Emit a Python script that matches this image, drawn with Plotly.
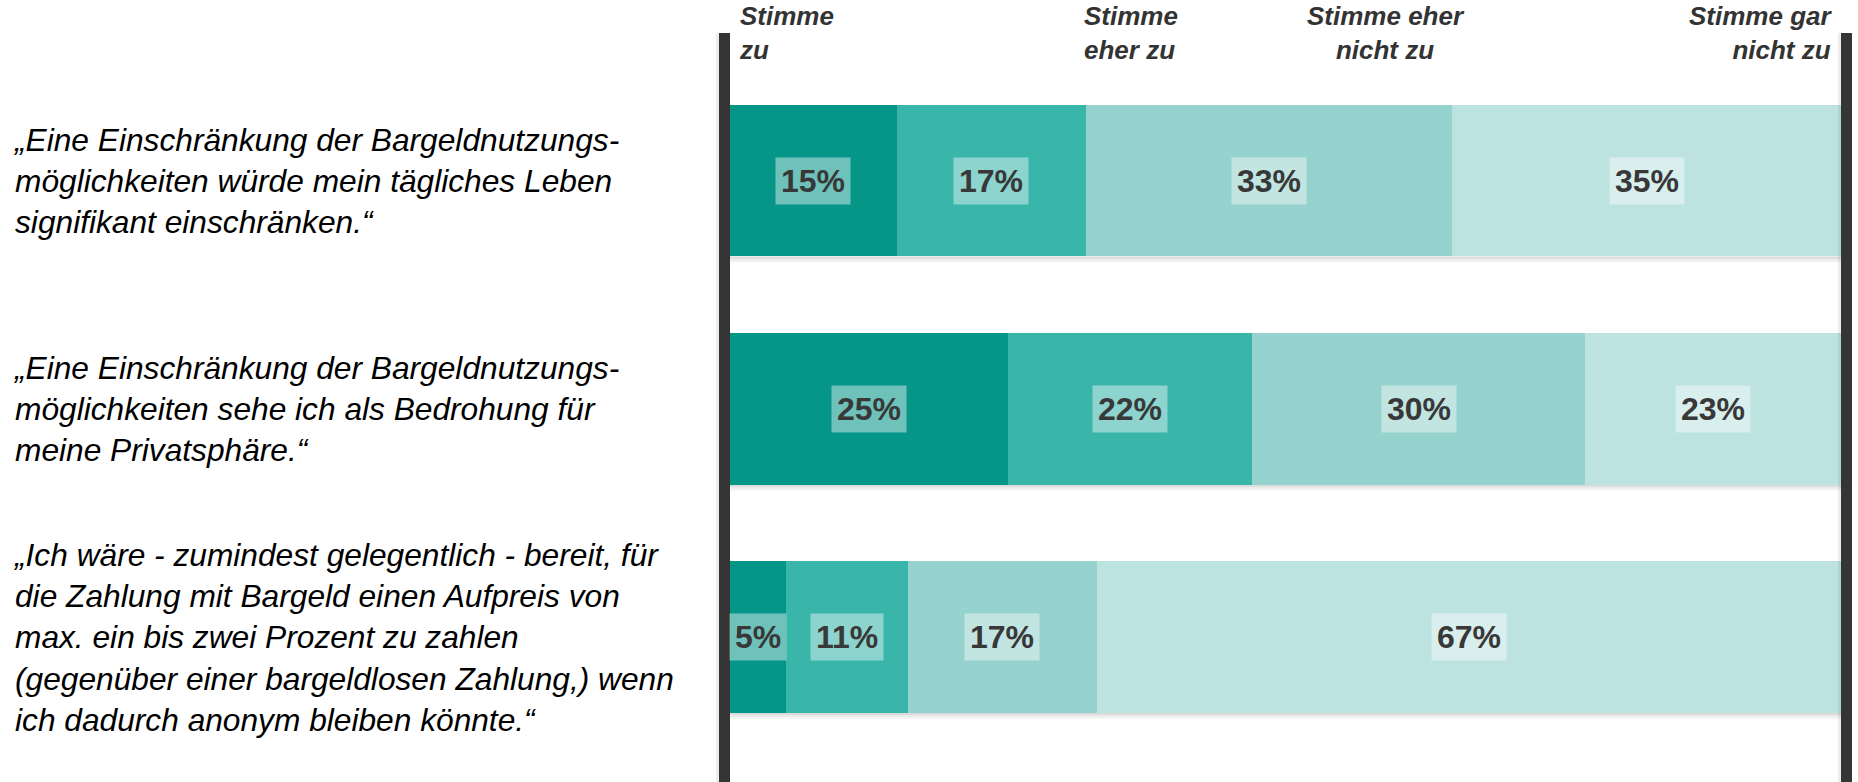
import plotly.graph_objects as go

# ---- data ----
questions = [
    "„Eine Einschränkung der Bargeldnutzungs-<br>möglichkeiten würde mein tägliches Leben<br>signifikant einschränken.“",
    "„Eine Einschränkung der Bargeldnutzungs-<br>möglichkeiten sehe ich als Bedrohung für<br>meine Privatsphäre.“",
    "„Ich wäre - zumindest gelegentlich - bereit, für<br>die Zahlung mit Bargeld einen Aufpreis von<br>max. ein bis zwei Prozent zu zahlen<br>(gegenüber einer bargeldlosen Zahlung,) wenn<br>ich dadurch anonym bleiben könnte.“",
]
series_names = ["Stimme zu", "Stimme eher zu", "Stimme eher nicht zu", "Stimme gar nicht zu"]
header_labels = ["Stimme<br>zu", "Stimme<br>eher zu", "Stimme eher<br>nicht zu", "Stimme gar<br>nicht zu"]
stimme_zu = [15, 25, 5]
stimme_eher_zu = [17, 22, 11]
stimme_eher_nicht_zu = [33, 30, 17]
stimme_gar_nicht_zu = [35, 23, 67]

values = [stimme_zu, stimme_eher_zu, stimme_eher_nicht_zu, stimme_gar_nicht_zu]
colors = ["#069688", "#39b5aa", "#96d3ce", "#bde3e0"]

W, H = 1858, 782
L, R, T, B = 730, 17, 33, 0
BAR_W = 0.665
ypos = list(range(len(questions)))

fig = go.Figure()
for name, vals, col in zip(series_names, values, colors):
    fig.add_trace(go.Bar(
        y=ypos, x=vals, name=name, orientation="h",
        marker=dict(color=col, line=dict(width=0)),
        width=BAR_W, hoverinfo="skip", showlegend=False,
    ))

shapes = []
annotations = []

# shadows under bars
for yi in ypos:
    for k, a in enumerate([0.14, 0.08, 0.04]):
        shapes.append(dict(type="rect", xref="x", yref="y", x0=0, x1=100,
                           y0=yi + BAR_W / 2 + k * 0.009, y1=yi + BAR_W / 2 + (k + 1) * 0.009,
                           fillcolor=f"rgba(0,0,0,{a})", line=dict(width=0), layer="below"))

# value labels
for yi in ypos:
    cum = 0
    for vals in values:
        v = vals[yi]
        annotations.append(dict(
            x=cum + v / 2, y=yi, xref="x", yref="y", text=f"<b>{v}%</b>",
            showarrow=False, font=dict(family="Liberation Sans, Arial", size=32, color="#383838"),
            bgcolor="rgba(255,255,255,0.42)", borderpad=5,
            xanchor="center", yanchor="middle",
        ))
        cum += v

# question texts
plot_w = W - L - R
for yi, q in enumerate(questions):
    annotations.append(dict(
        x=(11 - L) / plot_w, y=yi, xref="paper", yref="y", text=q,
        showarrow=False, align="left", xanchor="left", yanchor="middle",
        font=dict(family="Liberation Sans, Arial", size=31.7, color="#000000", style="italic"),
    ))

# header labels
plot_h = H - T - B
def py(p):
    return (H - B - p) / plot_h
def px(p):
    return (p - L) / plot_w

hdr_font = dict(family="Liberation Sans, Arial", size=26, color="#333333")
hdr_pos = [(737, "left"), (1082, "left"), (1386, "center"), (1834, "right")]
for lab, (xp, anc) in zip(header_labels, hdr_pos):
    annotations.append(dict(
        x=px(xp), y=py(33), xref="paper", yref="paper",
        text=f"<b><i>{lab}</i></b>", showarrow=False,
        xanchor=anc, yanchor="middle", align=anc, font=hdr_font,
    ))

# dark vertical bars
for x0p, x1p in [(719, 730), (1841, 1852)]:
    shapes.append(dict(type="rect", xref="paper", yref="paper",
                       x0=px(x0p - 3), x1=px(x0p), y0=0, y1=1,
                       fillcolor="rgba(0,0,0,0.07)", line=dict(width=0), layer="above"))
    shapes.append(dict(type="rect", xref="paper", yref="paper",
                       x0=px(x0p), x1=px(x1p), y0=0, y1=1,
                       fillcolor="#353535", line=dict(width=0), layer="above"))

# y range derived from pixel layout: centers at 180.5 and 637
unit = (637 - 180.5) / 2
y_top = 0 - (180.5 - T) / unit
y_bot = 2 + (H - B - 637) / unit

fig.update_layout(
    width=W, height=H,
    margin=dict(l=L, r=R, t=T, b=B, pad=0),
    barmode="stack", bargap=0,
    plot_bgcolor="white", paper_bgcolor="white",
    xaxis=dict(range=[0, 100], visible=False, fixedrange=True),
    yaxis=dict(range=[y_bot, y_top], visible=False, fixedrange=True),
    shapes=shapes, annotations=annotations,
)

fig.write_html("out.html", config={"displayModeBar": False})

# remove default page margin so the figure sits at the window origin
with open("out.html", "r", encoding="utf-8") as f:
    html = f.read()
html = html.replace("<head>", "<head><style>html,body{margin:0;padding:0;overflow:hidden;}</style>", 1)
with open("out.html", "w", encoding="utf-8") as f:
    f.write(html)
